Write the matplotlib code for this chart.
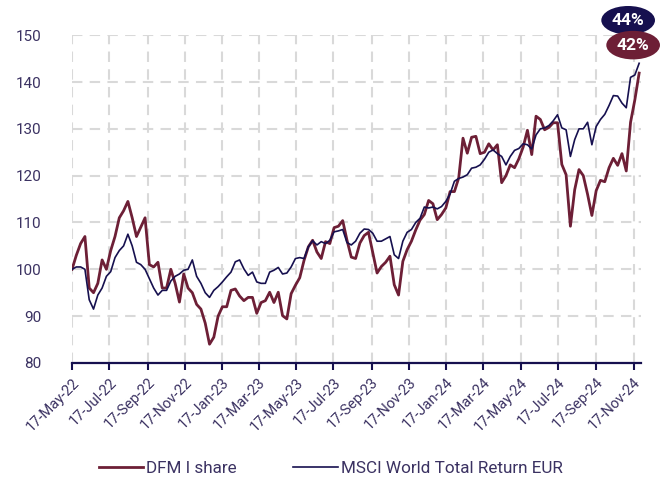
import numpy as np
import pandas as pd
import matplotlib
matplotlib.use("Agg")
import matplotlib.pyplot as plt
import matplotlib.dates as mdates

# weekly index levels (base 100 on 17-May-22)
start_date = "2022-05-17"
msci = [100, 100.5, 100.5, 100, 93.5, 91.5, 94.5, 96, 98.5, 99.5,
        102.5, 104, 105, 107.5, 105, 101.5, 101, 100, 98, 96,
        94.5, 95.5, 95.5, 97.5, 98.5, 99, 99.8, 100, 102, 98.5,
        97, 95, 94, 95.5, 96.3, 97.3, 98.4, 99.4, 101.6, 102,
        100.1, 98.7, 99.4, 97.3, 97, 97, 99.4, 99.8, 100.4, 99,
        99.2, 100.5, 102.3, 102.5, 102.3, 104.8, 106.1, 105.2, 105.9, 105.5,
        106.2, 108, 108.2, 108.5, 105.7, 105.2, 106, 107.7, 108.6, 108.5,
        107.7, 106, 106, 106.5, 107, 103.1, 102.3, 106, 107.9, 108.5,
        110, 110.9, 113.3, 113.1, 113.3, 112.9, 113.4, 114.5, 116.1, 118.8,
        119.4, 119.7, 120.2, 121.6, 121.8, 122.3, 123.5, 125, 125.5, 124.7,
        124.1, 122.3, 124.1, 125.4, 125.8, 126.8, 126.6, 125.7, 128.7, 130,
        130.2, 130.7, 131.7, 133, 130.2, 129.8, 124.1, 127.7, 130, 130,
        131.4, 126.6, 130.5, 132, 133.1, 135, 137.1, 137, 135.5, 134.5,
        141, 141.5, 144]
dfm = [100, 103, 105.5, 107, 96, 95, 97, 102, 100, 104,
       107, 111, 112.5, 114.5, 111, 107, 109, 111, 101, 100.5,
       101.5, 96, 96, 100, 97, 93, 99, 96, 95, 92.5,
       91.5, 88.5, 84, 85.5, 90, 92, 92, 95.5, 95.8, 94.3,
       93.3, 94, 94, 90.6, 92.9, 93.3, 95.1, 92.9, 95.1, 90.1,
       89.4, 94.8, 96.6, 98.2, 101.9, 104.8, 106.2, 103.7, 102.3, 105.9,
       105.5, 108.9, 109.2, 110.4, 106.2, 102.6, 102.3, 105.6, 107.2, 107.9,
       103.5, 99.2, 100.6, 101.5, 102.8, 96.7, 94.5, 101.7, 104.2, 106,
       108.4, 110.5, 111.7, 114.7, 114, 110.6, 111.7, 113.1, 116.6, 116.6,
       119.5, 128, 124.8, 128.2, 128.4, 124.7, 125, 126.8, 125.5, 126.6,
       118.5, 120, 122.3, 121.7, 123.6, 126.1, 129.7, 124.5, 132.7, 132,
       129.8, 130.3, 131.3, 131.3, 122.4, 120.2, 109.2, 117, 121.3, 120,
       116, 111.5, 116.8, 119, 118.7, 121.7, 123.7, 122.2, 124.7, 121,
       131.4, 136.2, 141.9]
series_names = ["DFM I share", "MSCI World Total Return EUR"]
end_labels = ["42%", "44%"]

dates = pd.date_range(start_date, periods=len(msci), freq="7D")

maroon = "#6d1f36"
navy = "#16104f"
txt = "#3b3262"
grid_c = "#d9d9d9"

plt.rcParams["font.family"] = ["Roboto", "DejaVu Sans"]

fig = plt.figure(figsize=(6.67, 4.82), dpi=100)
ax = fig.add_axes([0.108, 0.247, 0.853, 0.68])

ax.plot(dates, dfm, color=maroon, lw=2.0, label=series_names[0], zorder=3)
ax.plot(dates, msci, color=navy, lw=1.2, label=series_names[1], zorder=4)

ax.set_ylim(80, 150)
ax.set_yticks(range(80, 151, 10))
ax.set_xlim(pd.Timestamp("2022-05-17"), pd.Timestamp("2024-11-29"))
ticks = pd.date_range("2022-05-01", "2024-11-01", freq="2MS") + pd.Timedelta(days=16)
ax.set_xticks(ticks)
ax.xaxis.set_major_formatter(mdates.DateFormatter("%d-%b-%y"))

ax.grid(True, color=grid_c, lw=1.5, ls=(0, (5, 3.5)), zorder=0)
for s in ["top", "right", "left"]:
    ax.spines[s].set_visible(False)
ax.spines["bottom"].set_color(navy)
ax.spines["bottom"].set_linewidth(1.6)
ax.spines["bottom"].set_zorder(5)

ax.tick_params(axis="y", length=0, pad=22, labelsize=11, labelcolor=txt)
ax.tick_params(axis="x", length=5, width=1.5, color=navy, direction="out",
               labelsize=10.5, labelcolor=txt, pad=4)
for lab in ax.get_xticklabels():
    lab.set_rotation(45)
    lab.set_ha("right")
    lab.set_rotation_mode("anchor")

# end value badges
ax.annotate(end_labels[1], xy=(dates[-1], msci[-1]), xytext=(-11, 43),
            textcoords="offset pixels", ha="center", va="center",
            color="white", fontsize=12.5, fontweight="bold", annotation_clip=False,
            bbox=dict(boxstyle="ellipse,pad=0.15", fc=navy, ec="none"), zorder=6)
ax.annotate(end_labels[0], xy=(dates[-1], dfm[-1]), xytext=(-6, 28),
            textcoords="offset pixels", ha="center", va="center",
            color="white", fontsize=12.5, fontweight="bold", annotation_clip=False,
            bbox=dict(boxstyle="ellipse,pad=0.15", fc=maroon, ec="none"), zorder=6)

fig.legend(loc="center", bbox_to_anchor=(0.496, 0.029), ncol=2, frameon=False,
           fontsize=12.3, labelcolor=txt, handlelength=2.6, handletextpad=0.2,
           columnspacing=3.3)

fig.savefig("out.png", dpi=100)
